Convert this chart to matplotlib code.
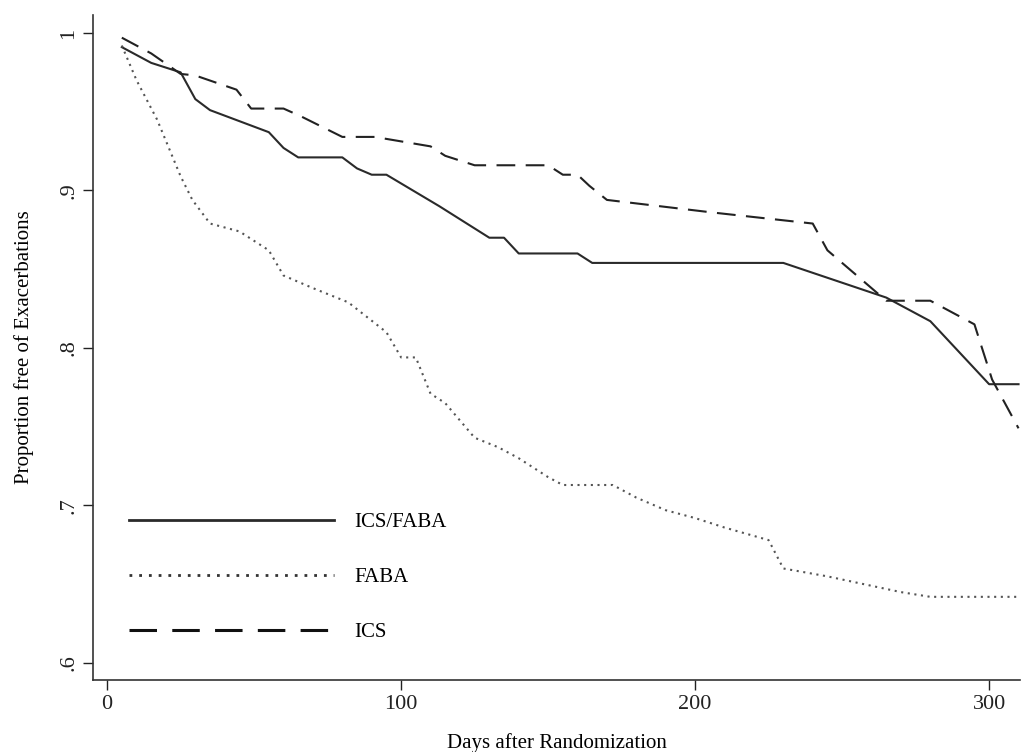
import matplotlib
matplotlib.use('Agg')
import matplotlib.pyplot as plt
from matplotlib.lines import Line2D

plt.rcParams['font.family'] = ['Liberation Serif', 'DejaVu Serif']

# ICS/FABA (solid)
days_combo = [5, 15, 25, 30, 35, 55, 60, 65, 80, 85, 90, 95, 113, 130, 135, 140, 160, 165, 230, 265, 280, 300, 310]
surv_combo = [0.991, 0.981, 0.975, 0.958, 0.951, 0.937, 0.927, 0.921, 0.921, 0.914, 0.910, 0.910, 0.890,
              0.870, 0.870, 0.860, 0.860, 0.854, 0.854, 0.832, 0.817, 0.777, 0.777]

# FABA (dotted)
days_faba = [5, 10, 17, 25, 29, 35, 45, 55, 60, 70, 82, 95, 100, 105, 110, 115, 125, 133, 140, 145, 150,
             155, 172, 180, 190, 200, 210, 225, 230, 245, 260, 270, 280, 310]
surv_faba = [0.992, 0.970, 0.945, 0.909, 0.894, 0.879, 0.874, 0.862, 0.846, 0.838, 0.829, 0.810, 0.794,
             0.794, 0.771, 0.765, 0.743, 0.737, 0.730, 0.724, 0.718, 0.713, 0.713, 0.705, 0.697, 0.692,
             0.686, 0.678, 0.660, 0.655, 0.649, 0.645, 0.642, 0.642]

# ICS (dashed)
days_ics = [5, 15, 25, 30, 44, 49, 60, 66, 80, 91, 110, 115, 125, 150, 155, 160, 164, 170, 206, 240, 245,
            265, 280, 295, 301, 310]
surv_ics = [0.997, 0.987, 0.974, 0.973, 0.964, 0.952, 0.952, 0.947, 0.934, 0.934, 0.928, 0.922, 0.916,
            0.916, 0.910, 0.910, 0.903, 0.894, 0.886, 0.879, 0.862, 0.830, 0.830, 0.815, 0.780, 0.749]

labels = ['ICS/FABA', 'FABA', 'ICS']

fig = plt.figure(figsize=(10.22, 7.52), dpi=100)
ax = fig.add_axes([93 / 1022, 1 - 680 / 752, (1020 - 93) / 1022, (680 - 15) / 752])

ax.plot(days_combo, surv_combo, color='#2a2a2a', lw=1.5)
ax.plot(days_faba, surv_faba, color='#555555', lw=1.5, linestyle=(0, (1, 2.2)))
ax.plot(days_ics, surv_ics, color='#222222', lw=1.5, linestyle=(0, (9, 5)))

ax.set_xlim(-4.8, 310.5)
ax.set_ylim(0.5892, 1.0114)
ax.set_xticks([0, 100, 200, 300])
ax.set_xticklabels(['0', '100', '200', '300'])
ax.set_yticks([0.6, 0.7, 0.8, 0.9, 1.0])
ax.set_yticklabels(['.6', '.7', '.8', '.9', '1'], rotation=90, va='center')

for s in ['top', 'right']:
    ax.spines[s].set_visible(False)
for s in ['left', 'bottom']:
    ax.spines[s].set_color('#333333')
    ax.spines[s].set_linewidth(1.2)
ax.tick_params(axis='both', direction='out', length=7, width=1.0, labelsize=16, colors='#222222')

ax.set_xlabel('Days after Randomization', fontsize=15, labelpad=14)
ax.set_ylabel('Proportion free of Exacerbations', fontsize=15, labelpad=18)

# legend handles, longer dashes like the original key
handles = [
    Line2D([], [], color='#2a2a2a', lw=2.0),
    Line2D([], [], color='#333333', lw=2.0, linestyle=(0, (1, 2.5))),
    Line2D([], [], color='#111111', lw=2.2, linestyle=(0, (9, 5))),
]
ax.legend(handles, labels, loc='lower left', bbox_to_anchor=(0.019, 0.029), frameon=False, fontsize=15,
          handlelength=9.8, handletextpad=1.0, labelspacing=1.7)

fig.savefig('out.png', dpi=100)
